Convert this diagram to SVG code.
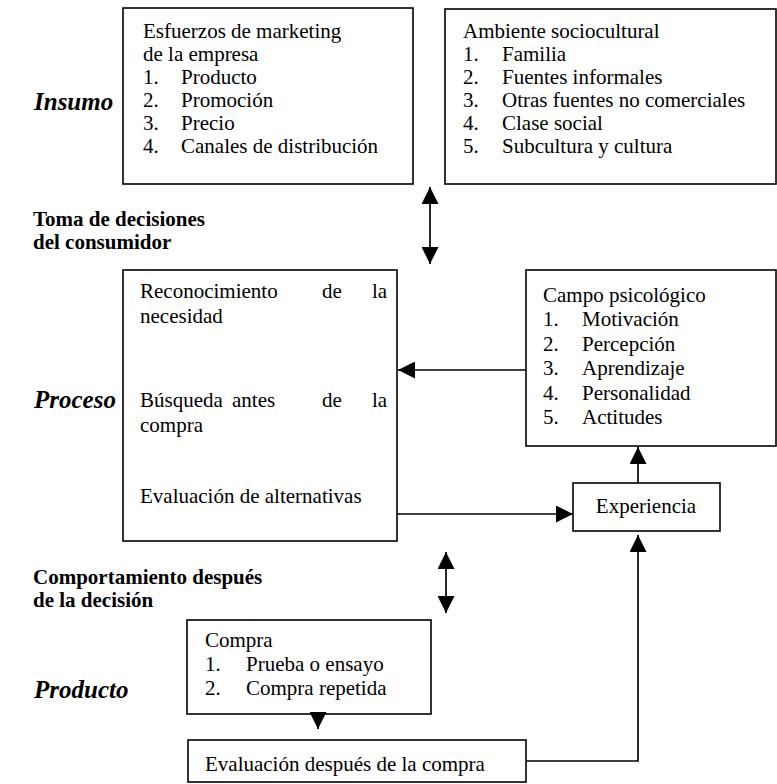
<svg xmlns="http://www.w3.org/2000/svg" width="777" height="784" viewBox="0 0 777 784">
<style>
.box{fill:#fff;stroke:#000;stroke-width:1.6}
text{font-family:'Times New Roman','Liberation Serif','DejaVu Serif',serif;fill:#000}
.t{font-size:21px}
.lab{font-size:21px;font-weight:bold}
.stage{font-size:25px;font-weight:bold;font-style:italic}
.ln{fill:none;stroke:#000;stroke-width:1.7}
</style>
<defs>
<marker id="ah" viewBox="0 0 17 17" refX="17" refY="8.5" markerWidth="17" markerHeight="17" markerUnits="userSpaceOnUse" orient="auto-start-reverse">
<path d="M0,0 L17,8.5 L0,17 Z" fill="#000"/>
</marker>
</defs>
<rect width="777" height="784" fill="#fff"/>
<g id="labels">
<text class="stage" x="34" y="110">Insumo</text>
<text class="lab" x="33" y="226">Toma de decisiones</text>
<text class="lab" x="33" y="249">del consumidor</text>
<text class="stage" x="34" y="408">Proceso</text>
<text class="lab" x="33" y="584">Comportamiento después</text>
<text class="lab" x="33" y="607">de la decisión</text>
<text class="stage" x="34" y="698">Producto</text>
</g>
<g id="esfuerzos">
<rect class="box" x="123" y="8" width="290" height="176"/>
<text class="t" x="143" y="37.5">Esfuerzos de marketing</text>
<text class="t" x="143" y="60.6">de la empresa</text>
<text class="t" y="83.7"><tspan x="143">1.</tspan><tspan x="181">Producto</tspan></text>
<text class="t" y="106.8"><tspan x="143">2.</tspan><tspan x="181">Promoción</tspan></text>
<text class="t" y="129.9"><tspan x="143">3.</tspan><tspan x="181">Precio</tspan></text>
<text class="t" y="153"><tspan x="143">4.</tspan><tspan x="181">Canales de distribución</tspan></text>
</g>
<g id="ambiente">
<rect class="box" x="445" y="9" width="331" height="175"/>
<text class="t" x="463" y="37.5">Ambiente sociocultural</text>
<text class="t" y="60.6"><tspan x="463">1.</tspan><tspan x="502">Familia</tspan></text>
<text class="t" y="83.7"><tspan x="463">2.</tspan><tspan x="502">Fuentes informales</tspan></text>
<text class="t" y="106.8"><tspan x="463">3.</tspan><tspan x="502">Otras fuentes no comerciales</tspan></text>
<text class="t" y="129.9"><tspan x="463">4.</tspan><tspan x="502">Clase social</tspan></text>
<text class="t" y="153"><tspan x="463">5.</tspan><tspan x="502">Subcultura y cultura</tspan></text>
</g>
<g id="proceso">
<rect class="box" x="123" y="270" width="274" height="271"/>
<text class="t" y="298"><tspan x="140">Reconocimiento</tspan><tspan x="322">de</tspan><tspan x="372">la</tspan></text>
<text class="t" x="140" y="323">necesidad</text>
<text class="t" y="407"><tspan x="140">Búsqueda</tspan><tspan x="232">antes</tspan><tspan x="322">de</tspan><tspan x="372">la</tspan></text>
<text class="t" x="140" y="432">compra</text>
<text class="t" x="140" y="503">Evaluación de alternativas</text>
</g>
<g id="campo">
<rect class="box" x="526" y="270" width="250" height="176"/>
<text class="t" x="543" y="302">Campo psicológico</text>
<text class="t" y="326.4"><tspan x="543">1.</tspan><tspan x="582">Motivación</tspan></text>
<text class="t" y="350.8"><tspan x="543">2.</tspan><tspan x="582">Percepción</tspan></text>
<text class="t" y="375.2"><tspan x="543">3.</tspan><tspan x="582">Aprendizaje</tspan></text>
<text class="t" y="399.6"><tspan x="543">4.</tspan><tspan x="582">Personalidad</tspan></text>
<text class="t" y="424"><tspan x="543">5.</tspan><tspan x="582">Actitudes</tspan></text>
</g>
<g id="experiencia">
<rect class="box" x="573" y="483" width="147" height="48"/>
<text class="t" x="646" y="513" text-anchor="middle">Experiencia</text>
</g>
<g id="compra">
<rect class="box" x="187" y="620" width="244" height="94"/>
<text class="t" x="205" y="647">Compra</text>
<text class="t" y="671"><tspan x="205">1.</tspan><tspan x="246">Prueba o ensayo</tspan></text>
<text class="t" y="695"><tspan x="205">2.</tspan><tspan x="246">Compra repetida</tspan></text>
</g>
<g id="evaluacion">
<rect class="box" x="188" y="740" width="338" height="42"/>
<text class="t" x="205" y="771">Evaluación después de la compra</text>
</g>
<g id="connectors">
<line class="ln" x1="430" y1="187" x2="430" y2="264" marker-start="url(#ah)" marker-end="url(#ah)"/>
<line class="ln" x1="526" y1="370" x2="398" y2="370" marker-end="url(#ah)"/>
<line class="ln" x1="397" y1="514" x2="573" y2="514" marker-end="url(#ah)"/>
<line class="ln" x1="638" y1="483" x2="638" y2="447" marker-end="url(#ah)"/>
<line class="ln" x1="446" y1="552" x2="446" y2="613" marker-start="url(#ah)" marker-end="url(#ah)"/>
<line class="ln" x1="318" y1="714" x2="318" y2="729" marker-end="url(#ah)"/>
<polyline class="ln" points="526,761 638,761 638,535" marker-end="url(#ah)"/>
</g>
</svg>
